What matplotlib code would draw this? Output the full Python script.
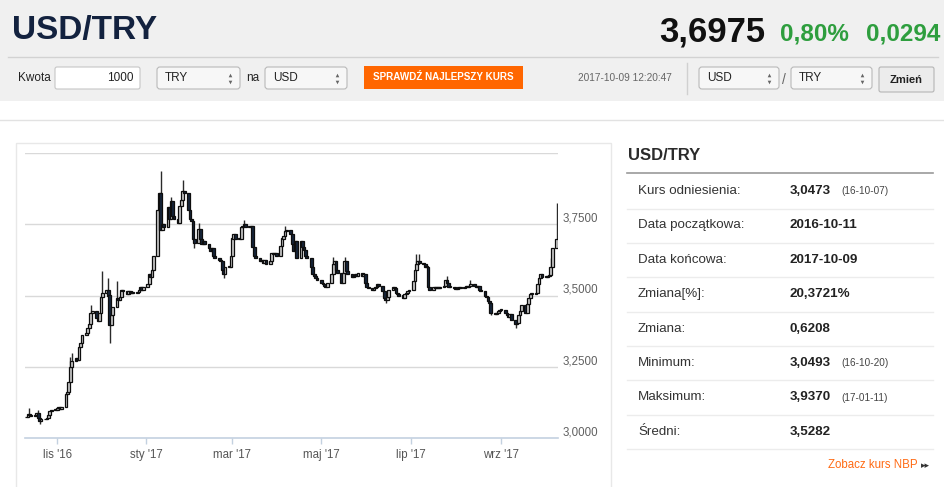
import numpy as np
import pandas as pd
import matplotlib
matplotlib.use("Agg")
import matplotlib.pyplot as plt
import matplotlib.dates as mdates
from matplotlib.patches import Rectangle, FancyBboxPatch

plt.rcParams['font.family'] = ['Liberation Sans', 'DejaVu Sans']
NARROW = ['Liberation Sans Narrow', 'Liberation Sans', 'DejaVu Sans']

# USD/TRY daily closes (trading days), one list per month
close_2016_10 = [3.075, 3.085, 3.080, 3.078, 3.082, 3.088, 3.070, 3.060, 3.068, 3.065,
                 3.070, 3.082, 3.095, 3.100, 3.098]
close_2016_11 = [3.105, 3.110, 3.102, 3.110, 3.155, 3.160, 3.195, 3.250, 3.270, 3.280,
                 3.275, 3.320, 3.335, 3.360, 3.370, 3.385, 3.400, 3.440, 3.445, 3.420,
                 3.410, 3.440]
close_2016_12 = [3.495, 3.510, 3.520, 3.500, 3.395, 3.430, 3.460, 3.490, 3.485, 3.495,
                 3.520, 3.515, 3.505, 3.515, 3.510, 3.508, 3.510, 3.512, 3.520, 3.530,
                 3.520, 3.530]
close_2017_01 = [3.540, 3.575, 3.565, 3.590, 3.640, 3.800, 3.860, 3.730, 3.750, 3.740,
                 3.810, 3.770, 3.830, 3.780, 3.770, 3.755, 3.815, 3.835, 3.865, 3.860,
                 3.800, 3.770]
close_2017_02 = [3.760, 3.700, 3.685, 3.735, 3.700, 3.680, 3.690, 3.680, 3.665, 3.655,
                 3.665, 3.640, 3.630, 3.625, 3.620, 3.590, 3.575, 3.600, 3.600, 3.640]
close_2017_03 = [3.700, 3.715, 3.700, 3.700, 3.740, 3.745, 3.750, 3.740, 3.740, 3.745,
                 3.670, 3.640, 3.630, 3.620, 3.625, 3.615, 3.625, 3.610, 3.620, 3.650,
                 3.645, 3.650, 3.640]
close_2017_04 = [3.675, 3.700, 3.710, 3.725, 3.730, 3.715, 3.680, 3.655, 3.690, 3.630,
                 3.690, 3.670, 3.660, 3.640, 3.630, 3.600, 3.575, 3.570, 3.560, 3.555]
close_2017_05 = [3.545, 3.540, 3.535, 3.530, 3.545, 3.575, 3.610, 3.620, 3.590, 3.580,
                 3.545, 3.580, 3.620, 3.585, 3.575, 3.565, 3.570, 3.575, 3.570, 3.578,
                 3.570, 3.575, 3.545]
close_2017_06 = [3.530, 3.525, 3.520, 3.525, 3.530, 3.540, 3.535, 3.515, 3.490, 3.485,
                 3.495, 3.520, 3.530, 3.525, 3.510, 3.505, 3.500, 3.490, 3.505, 3.510,
                 3.515, 3.520]
close_2017_07 = [3.550, 3.590, 3.610, 3.620, 3.615, 3.610, 3.600, 3.600, 3.530, 3.520,
                 3.530, 3.525, 3.530, 3.525, 3.530, 3.535, 3.555, 3.545, 3.530, 3.530,
                 3.525]
close_2017_08 = [3.522, 3.528, 3.530, 3.528, 3.530, 3.533, 3.530, 3.535, 3.540, 3.535,
                 3.530, 3.532, 3.520, 3.515, 3.500, 3.495, 3.480, 3.475, 3.440, 3.435,
                 3.440, 3.445, 3.448]
close_2017_09 = [3.450, 3.440, 3.430, 3.425, 3.435, 3.415, 3.400, 3.405, 3.430, 3.445,
                 3.465, 3.440, 3.470, 3.490, 3.505, 3.505, 3.510, 3.540, 3.560, 3.575,
                 3.565]
close_2017_10 = [3.565, 3.570, 3.572, 3.600, 3.668, 3.6975]

closes = (close_2016_10 + close_2016_11 + close_2016_12 + close_2017_01 + close_2017_02
          + close_2017_03 + close_2017_04 + close_2017_05 + close_2017_06 + close_2017_07
          + close_2017_08 + close_2017_09 + close_2017_10)
dates = pd.bdate_range("2016-10-11", "2017-10-09")
first_open = 3.072  # open of the first candle

# visible wicks
high_spikes = {
    "2016-10-13": 3.105, "2016-10-19": 3.100, "2016-11-10": 3.285, "2016-11-11": 3.300,
    "2016-11-24": 3.465, "2016-12-02": 3.585, "2016-12-06": 3.560, "2016-12-12": 3.550,
    "2017-01-11": 3.937, "2017-01-18": 3.845, "2017-01-26": 3.905, "2017-02-06": 3.755,
    "2017-03-09": 3.765, "2017-04-06": 3.745, "2017-05-09": 3.635, "2017-05-17": 3.635,
    "2017-07-05": 3.645, "2017-07-07": 3.645, "2017-07-26": 3.570, "2017-08-11": 3.555,
    "2017-10-05": 3.630, "2017-10-09": 3.824,
}
low_spikes = {
    "2016-10-20": 3.0493, "2016-12-07": 3.335, "2017-02-03": 3.665, "2017-02-23": 3.560,
    "2017-06-14": 3.475, "2017-08-25": 3.430, "2017-09-11": 3.385,
}

y_ticks = [3.0, 3.25, 3.5, 3.75]
y_labels = ["3,0000", "3,2500", "3,5000", "3,7500"]
grid_levels = [3.25, 3.5, 3.75, 4.0]
month_ticks = ["2016-11-01", "2017-01-01", "2017-03-01", "2017-05-01", "2017-07-01", "2017-09-01"]
month_labels = ["lis '16", "sty '17", "mar '17", "maj '17", "lip '17", "wrz '17"]

stats_labels = ["Kurs odniesienia:", "Data początkowa:", "Data końcowa:", "Zmiana[%]:",
                "Zmiana:", "Minimum:", "Maksimum:", "Średni:"]
stats_values = ["3,0473", "2016-10-11", "2017-10-09", "20,3721%", "0,6208", "3,0493",
                "3,9370", "3,5282"]
stats_dates = ["(16-10-07)", "", "", "", "", "(16-10-20)", "(17-01-11)", ""]

assert len(closes) == len(dates)

W, H = 945, 487
fig = plt.figure(figsize=(W / 100, H / 100), dpi=100)
fig.patch.set_facecolor("white")

# page layer in pixel coordinates
bg = fig.add_axes([0, 0, 1, 1])
bg.set_xlim(0, W)
bg.set_ylim(H, 0)
bg.axis("off")


def rect(x0, y0, w, h, fc, ec="none", lw=1.0, r=0):
    if r:
        p = FancyBboxPatch((x0, y0), w, h, boxstyle="round,pad=0,rounding_size=%s" % r,
                           fc=fc, ec=ec, lw=lw)
    else:
        p = Rectangle((x0, y0), w, h, fc=fc, ec=ec, lw=lw)
    bg.add_patch(p)


def select(x0, w, label):
    rect(x0, 67, w, 22, "#f7f7f7", "#b9b9b9", 0.8, r=3)
    bg.text(x0 + 8, 78, label, fontsize=8.5, va="center", color="#222")
    bg.plot([x0 + w - 10], [75], marker="^", ms=2.6, color="#666", mew=0)
    bg.plot([x0 + w - 10], [81.5], marker="v", ms=2.6, color="#666", mew=0)


# header
rect(0, 0, W, 101, "#f0f0f0")
bg.text(12, 30, "USD/TRY", fontsize=24, fontweight="bold", color="#13223f",
        va="center", family=NARROW)
bg.text(765, 32, "3,6975", fontsize=25, fontweight="bold", color="#111111",
        va="center", ha="right", family=NARROW)
bg.text(780, 34, "0,80%", fontsize=17.5, fontweight="bold", color="#2e9e3e",
        va="center", family=NARROW)
bg.text(866, 34, "0,0294", fontsize=17.5, fontweight="bold", color="#2e9e3e",
        va="center", family=NARROW)
bg.plot([8, 938], [57, 57], color="#d2d2d2", lw=1)

bg.text(18, 78, "Kwota", fontsize=8.5, va="center", color="#222")
rect(55, 67, 85, 22, "white", "#c6c6c6", 0.8, r=2)
bg.text(134, 78, "1000", fontsize=8.5, va="center", ha="right", color="#222")
select(157, 83, "TRY")
bg.text(246, 78, "na", fontsize=8.5, va="center", color="#222")
select(265, 82, "USD")
rect(364, 66, 159, 23, "#ff6600")
bg.text(443.5, 77.5, "SPRAWDŹ NAJLEPSZY KURS", fontsize=7.1, fontweight="bold",
        color="white", va="center", ha="center", family=NARROW)
bg.text(578, 78, "2017-10-09 12:20:47", fontsize=7.3, va="center", color="#666666")
bg.plot([687, 687], [63, 94], color="#d0d0d0", lw=1)
select(699, 80, "USD")
bg.text(784, 80, "/", fontsize=10, va="center", ha="center", color="#666666")
select(791, 81, "TRY")
rect(879, 67, 55, 25, "#ececec", "#b5b5b5", 0.8, r=2)
bg.text(906.5, 80, "Zmień", fontsize=8, fontweight="bold", va="center", ha="center",
        color="#222")

# content frame
bg.plot([0, W], [120, 120], color="#e2e2e2", lw=1)
rect(16, 143, 595, 360, "white", "#e8e8e8", 1)

# right stats panel
bg.text(628, 156, "USD/TRY", fontsize=12, fontweight="bold", color="#2b2b2b", va="center")
bg.plot([627, 933], [173, 173], color="#9a9a9a", lw=1.2)
row_y = 191
for lab, val, dt in zip(stats_labels, stats_values, stats_dates):
    bg.text(638, row_y, lab, fontsize=9.6, color="#333333", va="center")
    bg.text(790, row_y, val, fontsize=9.6, fontweight="bold", color="#222222", va="center")
    if dt:
        bg.text(841, row_y + 0.5, dt, fontsize=7.2, color="#444444", va="center")
    bg.plot([627, 933], [row_y + 17.5, row_y + 17.5], color="#ececec", lw=1)
    row_y += 34.4
bg.text(918, 465, "Zobacz kurs NBP", fontsize=8.3, color="#ff6a13", va="center", ha="right")
bg.text(921, 465.5, "▸▸", fontsize=6.5, color="#333333", va="center",
        family=['DejaVu Sans'])

# candlestick chart
x0, x1, y0, y1 = 25, 558, 153, 438
ax = fig.add_axes([x0 / W, 1 - y1 / H, (x1 - x0) / W, (y1 - y0) / H])
ax.patch.set_alpha(0)

c = np.array(closes)
o = np.array([first_open] + closes[:-1])
keys = dates.strftime("%Y-%m-%d")
hi = np.array([max(oo, cc, high_spikes.get(k, 0)) for oo, cc, k in zip(o, c, keys)])
lo = np.array([min(oo, cc, low_spikes.get(k, 9)) for oo, cc, k in zip(o, c, keys)])
xd = mdates.date2num(dates.to_pydatetime())
up = c >= o

for lvl in grid_levels:
    ax.axhline(lvl, color="#d9d9d9", lw=1, zorder=0)

ax.vlines(xd, lo, hi, color="#2a2a2a", lw=1.0, zorder=2)
body_h = np.maximum(np.abs(c - o), 0.003)
ax.bar(xd, body_h, bottom=np.minimum(o, c), width=1.9,
       color=np.where(up, "#c8c8c8", "#16253a"), edgecolor="#0d0d0d", linewidth=0.9,
       zorder=3)

ax.set_xlim(mdates.datestr2num("2016-10-10"), mdates.datestr2num("2017-10-10"))
ax.set_ylim(3.0, 4.0)
for s in ["top", "left", "right"]:
    ax.spines[s].set_visible(False)
ax.spines["bottom"].set_color("#c3d1e0")
ax.spines["bottom"].set_linewidth(1.2)
ax.set_xticks(mdates.datestr2num(month_ticks))
ax.set_xticklabels(month_labels)
ax.tick_params(axis="x", length=4, color="#c3d1e0", width=1, pad=4,
               labelsize=8.3, labelcolor="#555555")
ax.set_yticks([])
for v, lab in zip(y_ticks, y_labels):
    ax.annotate(lab, xy=(1, v), xycoords=ax.get_yaxis_transform(), xytext=(3, 4),
                textcoords="offset points", fontsize=8.3, color="#606060",
                va="center", ha="left", annotation_clip=False)

fig.savefig("out.png", dpi=100)
